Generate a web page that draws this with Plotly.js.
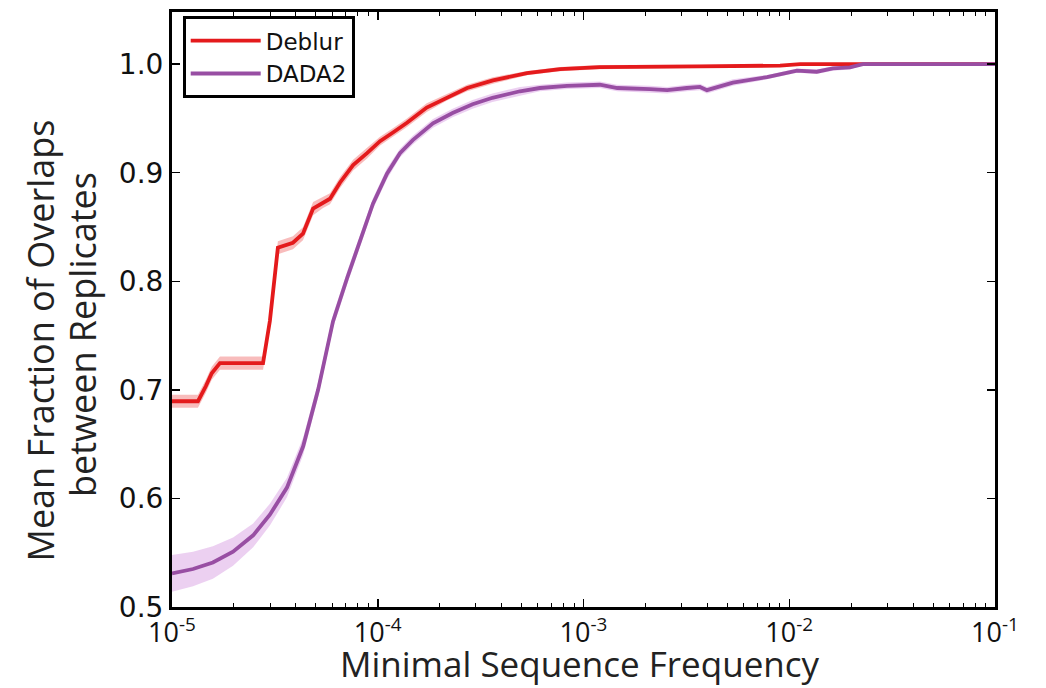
<!DOCTYPE html>
<html>
<head>
<meta charset="utf-8">
<script src="https://cdn.plot.ly/plotly-3.0.1.min.js"></script>
<style>html,body{margin:0;padding:0;background:#fff;}#chart{width:1046px;height:688px;}</style>
</head>
<body>
<div id="chart"></div>
<script>
// Minimal sequence frequency (x) and mean fraction of overlaps (y)
const deblurFreq = [1.0e-5, 1.337e-5, 1.46e-5, 1.56e-5, 1.71e-5, 2.77e-5, 2.99e-5, 3.27e-5, 3.87e-5, 4.33e-5, 4.85e-5, 5.42e-5, 5.86e-5, 6.56e-5, 7.59e-5, 8.87e-5, 1.026e-4, 1.186e-4, 1.387e-4, 1.73e-4, 2.17e-4, 2.72e-4, 3.63e-4, 5.31e-4, 7.69e-4, 1.2e-3, 3.68e-3, 9.02e-3, 1.13e-2, 0.1];
const deblurMean = [0.6895, 0.6895, 0.7033, 0.7153, 0.7246, 0.7246, 0.7634, 0.8309, 0.8355, 0.8438, 0.8669, 0.8725, 0.876, 0.891, 0.907, 0.918, 0.929, 0.937, 0.946, 0.960, 0.9695, 0.978, 0.985, 0.9917, 0.9954, 0.9972, 0.998, 0.9986, 1.0, 1.0];
const deblurErr = [0.006, 0.006, 0.006, 0.006, 0.006, 0.006, 0.006, 0.006, 0.006, 0.006, 0.006, 0.005, 0.005, 0.005, 0.005, 0.005, 0.004, 0.004, 0.004, 0.004, 0.003, 0.003, 0.003, 0.002, 0.002, 0.002, 0.0015, 0.001, 0.001, 0.0008];

const dada2Freq = [1.0e-5, 1.265e-5, 1.58e-5, 1.98e-5, 2.48e-5, 2.99e-5, 3.62e-5, 4.34e-5, 5.13e-5, 6.06e-5, 7.10e-5, 8.20e-5, 9.48e-5, 1.109e-4, 1.282e-4, 1.48e-4, 1.855e-4, 2.31e-4, 2.89e-4, 3.61e-4, 4.91e-4, 6.14e-4, 8.32e-4, 1.2e-3, 1.46e-3, 2.1e-3, 2.55e-3, 3.18e-3, 3.68e-3, 3.98e-3, 5.32e-3, 7.8e-3, 9.33e-3, 1.09e-2, 1.36e-2, 1.63e-2, 1.97e-2, 2.28e-2, 0.1];
const dada2Mean = [0.531, 0.535, 0.541, 0.551, 0.566, 0.585, 0.610, 0.648, 0.700, 0.763, 0.803, 0.837, 0.8715, 0.899, 0.918, 0.930, 0.9455, 0.955, 0.963, 0.969, 0.975, 0.978, 0.980, 0.981, 0.978, 0.977, 0.976, 0.978, 0.979, 0.976, 0.983, 0.988, 0.991, 0.994, 0.993, 0.996, 0.997, 1.0, 1.0];
const dada2Err = [0.017, 0.016, 0.015, 0.013, 0.011, 0.010, 0.009, 0.008, 0.007, 0.006, 0.006, 0.005, 0.005, 0.005, 0.004, 0.004, 0.004, 0.004, 0.004, 0.004, 0.004, 0.003, 0.003, 0.003, 0.003, 0.003, 0.003, 0.003, 0.003, 0.003, 0.003, 0.002, 0.002, 0.002, 0.002, 0.002, 0.002, 0.001, 0.001];

const seriesNames = ["Deblur", "DADA2"];
const xTickVals = [1e-5, 1e-4, 1e-3, 1e-2, 1e-1];
const xTickText = ["10<sup>-5</sup>", "10<sup>-4</sup>", "10<sup>-3</sup>", "10<sup>-2</sup>", "10<sup>-1</sup>"];
const yTickVals = [0.5, 0.6, 0.7, 0.8, 0.9, 1.0];
const yTickText = ["0.5", "0.6", "0.7", "0.8", "0.9", "1.0"];
const xTitle = "Minimal Sequence Frequency";
const yTitleLines = ["Mean Fraction of Overlaps", "between Replicates"];

const minorVals = [];
for (let k = -5; k <= -2; k++) for (let m = 2; m <= 9; m++) minorVals.push(m * Math.pow(10, k));

function band(freq, mean, err, fillColor) {
  return [
    {x: freq, y: mean.map((v, i) => v - err[i]), type: 'scatter', mode: 'lines',
     line: {width: 0, color: 'rgba(0,0,0,0)'}, showlegend: false, hoverinfo: 'skip'},
    {x: freq, y: mean.map((v, i) => v + err[i]), type: 'scatter', mode: 'lines',
     line: {width: 0, color: 'rgba(0,0,0,0)'}, fill: 'tonexty', fillcolor: fillColor,
     showlegend: false, hoverinfo: 'skip'}
  ];
}

const red = 'rgb(228,26,28)';
const purple = 'rgb(152,78,163)';

const data = [
  ...band(dada2Freq, dada2Mean, dada2Err, 'rgba(195,110,210,0.32)'),
  ...band(deblurFreq, deblurMean, deblurErr, 'rgba(235,60,60,0.34)'),
  {x: deblurFreq, y: deblurMean, type: 'scatter', mode: 'lines', name: seriesNames[0],
   line: {color: red, width: 3.8}},
  {x: dada2Freq, y: dada2Mean, type: 'scatter', mode: 'lines', name: seriesNames[1],
   line: {color: purple, width: 3.8}}
];

const yTickFont = {family: 'DejaVu Sans, sans-serif', size: 28, color: '#111'};
const xTickFont = {family: 'Open Sans, sans-serif', size: 27, color: '#111'};
const titleFont = {family: 'Open Sans, sans-serif', size: 36, color: '#222'};
const xTitleFont = {family: 'Open Sans, sans-serif', size: 35, color: '#222'};

const layout = {
  width: 1046, height: 688,
  margin: {l: 172, r: 51, t: 12, b: 81},
  paper_bgcolor: '#fff', plot_bgcolor: '#fff',
  showlegend: true,
  legend: {
    x: 0.013, y: 0.993, xanchor: 'left', yanchor: 'top',
    bgcolor: '#fff', bordercolor: '#000', borderwidth: 3,
    font: {family: 'DejaVu Sans, sans-serif', size: 23, color: '#111'},
    traceorder: 'normal', itemwidth: 70
  },
  xaxis: {
    type: 'log', range: [-5, -1],
    tickvals: xTickVals, ticktext: xTickText,
    ticks: 'inside', ticklen: 8, tickwidth: 1.5, tickcolor: '#000',
    minor: {tickvals: minorVals, ticks: 'inside', ticklen: 4, tickwidth: 1, tickcolor: '#000'},
    showline: true, linecolor: '#000', linewidth: 3, mirror: 'ticks',
    showgrid: false, zeroline: false,
    tickfont: xTickFont
  },
  yaxis: {
    range: [0.5, 1.048],
    tickvals: yTickVals, ticktext: yTickText,
    ticks: 'inside', ticklen: 8, tickwidth: 1.5, tickcolor: '#000',
    showline: true, linecolor: '#000', linewidth: 3, mirror: 'ticks',
    showgrid: false, zeroline: false,
    tickfont: yTickFont
  },
  annotations: [
    {text: xTitle, xref: 'paper', yref: 'paper', x: 0.496, y: -0.1355,
     xanchor: 'center', yanchor: 'bottom', showarrow: false, font: xTitleFont,
     borderpad: 0},
    {text: yTitleLines[0], textangle: -90, xref: 'paper', yref: 'paper',
     x: -0.1592, y: 0.4479, xanchor: 'center', yanchor: 'middle', showarrow: false, font: titleFont},
    {text: yTitleLines[1], textangle: -90, xref: 'paper', yref: 'paper',
     x: -0.1094, y: 0.4588, xanchor: 'center', yanchor: 'middle', showarrow: false, font: titleFont}
  ]
};

Plotly.newPlot('chart', data, layout, {displayModeBar: false, staticPlot: true});
</script>
</body>
</html>
